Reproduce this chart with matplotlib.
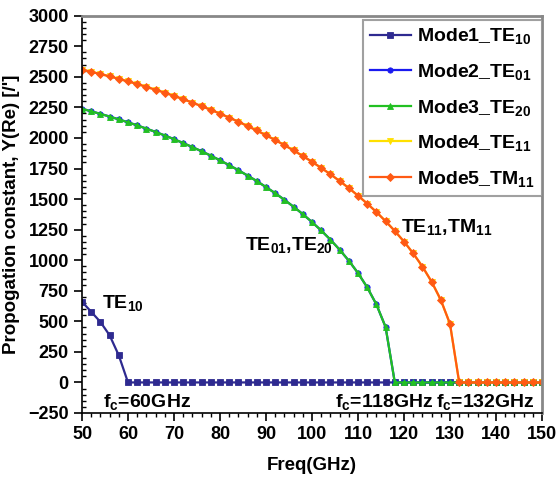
import matplotlib
matplotlib.use("Agg")
import matplotlib.pyplot as plt
from matplotlib.ticker import MultipleLocator

plt.rcParams['font.family'] = ['Liberation Sans', 'DejaVu Sans']
plt.rcParams['font.weight'] = 'bold'
plt.rcParams['mathtext.fontset'] = 'custom'
plt.rcParams['mathtext.rm'] = 'Liberation Sans:bold'
plt.rcParams['mathtext.it'] = 'Liberation Sans:bold'
plt.rcParams['mathtext.bf'] = 'Liberation Sans:bold'
plt.rcParams['mathtext.default'] = 'rm'

freq = list(range(50, 151, 2))

mode1_te10 = [660, 578, 495, 386, 221] + [0] * 46

mode3_te20 = [2239, 2218, 2197, 2175, 2152, 2128, 2103, 2076, 2049, 2020,
              1990, 1958, 1925, 1891, 1855, 1817, 1777, 1736, 1692, 1647,
              1598, 1548, 1494, 1437, 1377, 1312, 1243, 1168, 1086, 996,
              895, 778, 638, 453] + [0] * 17
mode2_te01 = list(mode3_te20)

mode5_tm11 = [2559, 2541, 2523, 2504, 2483, 2463, 2441, 2418, 2394, 2370,
              2344, 2317, 2289, 2260, 2230, 2199, 2166, 2133, 2097, 2061,
              2022, 1983, 1941, 1898, 1852, 1805, 1755, 1703, 1648, 1590,
              1528, 1463, 1394, 1319, 1239, 1152, 1056, 948, 824, 675,
              479] + [0] * 10
mode4_te11 = list(mode5_tm11)

labels = [r'Mode1_TE$_{10}$', r'Mode2_TE$_{01}$', r'Mode3_TE$_{20}$',
          r'Mode4_TE$_{11}$', r'Mode5_TM$_{11}$']
colors = ['#2E2A90', '#1A1AF0', '#22C022', '#FFE000', '#FF5A14']
markers = ['s', 'o', '^', 'v', 'D']
series = [mode1_te10, mode2_te01, mode3_te20, mode4_te11, mode5_tm11]

fig = plt.figure(figsize=(5.57, 4.82), dpi=100)
ax = fig.add_axes([82/557, 1 - 413/482, (542-82)/557, (413-15.7)/482])

for y, lab, c, m in zip(series, labels, colors, markers):
    ax.plot(freq, y, color=c, marker=m, markersize=3.8, linewidth=1.6,
            label=lab, markeredgewidth=0.6)

ax.set_xlim(50, 150)
ax.set_ylim(-250, 3000)
ax.xaxis.set_major_locator(MultipleLocator(10))
ax.xaxis.set_minor_locator(MultipleLocator(2))
ax.yaxis.set_major_locator(MultipleLocator(250))
ax.yaxis.set_minor_locator(MultipleLocator(50))
ax.tick_params(axis='both', which='major', direction='out', length=6,
               width=1.2, labelsize=13)
ax.tick_params(axis='x', which='minor', direction='out', length=3, width=1)
ax.tick_params(axis='y', which='minor', direction='in', length=3, width=1)
for lbl in ax.get_xticklabels() + ax.get_yticklabels():
    lbl.set_fontweight('bold')

ax.spines['left'].set_color('black')
ax.spines['bottom'].set_color('black')
ax.spines['left'].set_linewidth(1.2)
ax.spines['bottom'].set_linewidth(1.2)
ax.spines['top'].set_color('#888888')
ax.spines['right'].set_color('#888888')
ax.spines['top'].set_linewidth(2)
ax.spines['right'].set_linewidth(2)

ax.set_xlabel('Freq(GHz)', fontsize=13.5, fontweight='bold', labelpad=10)
ax.set_ylabel("Propogation constant, Y(Re) [/']", fontsize=13.5,
              fontweight='bold', labelpad=6)

leg = ax.legend(loc='upper right', bbox_to_anchor=(1.0, 0.99),
                fontsize=14, frameon=True, fancybox=False, shadow=False,
                handlelength=2.1, handletextpad=0.35, labelspacing=0.8,
                borderpad=0.35, borderaxespad=0.0)
leg.get_frame().set_edgecolor('#888888')
leg.get_frame().set_linewidth(1.5)

fs = 14
ax.text(54.3, 605, r'TE$_{10}$', fontsize=fs, fontweight='bold', va='baseline')
ax.text(85.4, 1080, r'TE$_{01}$,TE$_{20}$', fontsize=fs, fontweight='bold', va='baseline')
ax.text(119.3, 1227, r'TE$_{11}$,TM$_{11}$', fontsize=fs, fontweight='bold', va='baseline')
ax.text(54.6, -202, r'f$_{c}$=60GHz', fontsize=fs, fontweight='bold', va='baseline')
ax.text(104.9, -202, r'f$_{c}$=118GHz', fontsize=fs, fontweight='bold', va='baseline')
ax.text(126.9, -202, r'f$_{c}$=132GHz', fontsize=fs, fontweight='bold', va='baseline')

fig.savefig('out.png', dpi=100)
